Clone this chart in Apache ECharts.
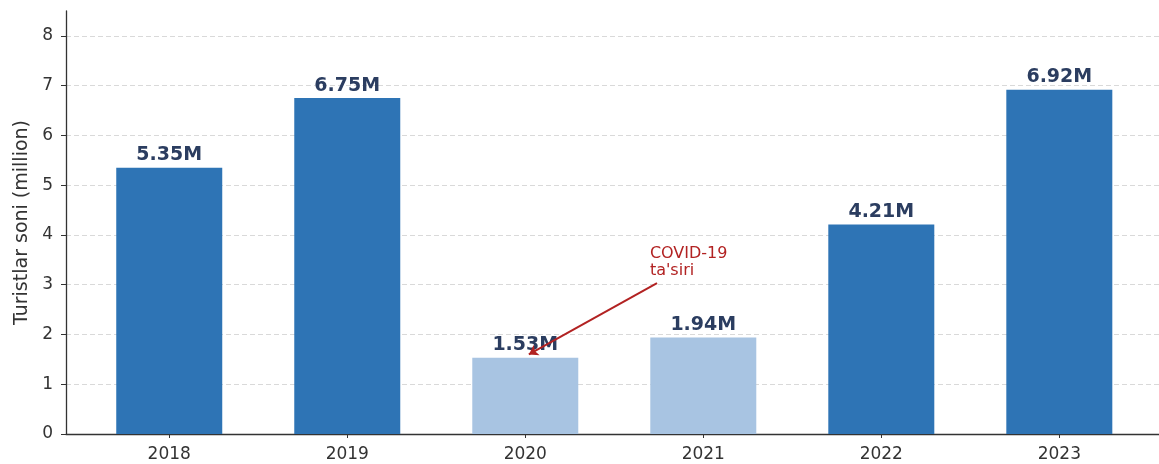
<!DOCTYPE html>
<html>
<head>
  <meta charset="utf-8">
  <title>Turistlar soni</title>
  <script src="https://cdn.jsdelivr.net/npm/echarts@6/dist/echarts.min.js"></script>
  <style>
    html, body { margin: 0; padding: 0; background: #fff; }
    #main { width: 1159px; height: 464px; }
  </style>
</head>
<body>
<div id="main"></div>
<script type="text/javascript">
// data
var years = ['2018', '2019', '2020', '2021', '2022', '2023'];
var tourists = [5.35, 6.75, 1.53, 1.94, 4.21, 6.92];   // million
var covidYears = ['2020', '2021'];
var yTicks = [0, 1, 2, 3, 4, 5, 6, 7, 8];
var xTicks = [0, 1, 2, 3, 4, 5];

var myChart = echarts.init(document.getElementById('main'));
var font = 'DejaVu Sans';

var barData = [];
for (var i = 0; i < years.length; i++) {
  var covid = covidYears.indexOf(years[i]) >= 0;
  barData.push({
    value: [i, tourists[i]],
    itemStyle: { color: covid ? '#a8c4e2' : '#2e74b5' }
  });
}

myChart.setOption({
  animation: false,
  grid: { left: 66, right: 0, top: 11, bottom: 30, outerBoundsMode: 'none', containLabel: false },
  xAxis: {
    type: 'value',
    min: -0.58,
    max: 5.56,
    splitLine: { show: false },
    axisLine: { show: true, onZero: false, lineStyle: { color: '#333', width: 1.3 } },
    axisTick: { show: true, customValues: xTicks, length: 4, lineStyle: { color: '#333' } },
    axisLabel: {
      customValues: xTicks,
      formatter: function (v) { return years[Math.round(v)]; },
      fontFamily: font, fontSize: 17, color: '#333', margin: 12
    }
  },
  yAxis: {
    type: 'value',
    min: 0,
    max: 8.5,
    interval: 1,
    name: 'Turistlar soni (million)',
    nameLocation: 'middle',
    nameGap: 34,
    nameTextStyle: { fontFamily: font, fontSize: 19, color: '#333' },
    axisLine: { show: true, onZero: false, lineStyle: { color: '#333', width: 1.3 } },
    axisTick: { show: true, customValues: yTicks, length: 5, lineStyle: { color: '#333' } },
    axisLabel: {
      customValues: yTicks,
      fontFamily: font, fontSize: 17, color: '#333', margin: 13
    },
    splitLine: {
      show: true,
      lineStyle: { color: '#d9d9d9', type: [5, 3], width: 1 }
    }
  },
  series: [{
    type: 'bar',
    barWidth: 106,
    data: barData,
    label: {
      show: true,
      position: 'top',
      distance: 3,
      formatter: function (p) { return p.value[1].toFixed(2) + 'M'; },
      fontFamily: font, fontSize: 19, fontWeight: 'bold', color: '#2b3d60'
    },
    markLine: {
      silent: true,
      symbol: ['none', 'arrow'],
      symbolSize: 9,
      label: { show: false },
      lineStyle: { color: '#b22222', width: 2, type: 'solid' },
      data: [[{ coord: [2.74, 3.03] }, { coord: [2.02, 1.6] }]]
    },
    markPoint: {
      silent: true,
      symbol: 'circle',
      symbolSize: 0,
      data: [{ coord: [2.7, 3.8] }],
      label: {
        show: true,
        position: 'right',
        distance: 0,
        align: 'left',
        verticalAlign: 'top',
        formatter: 'COVID-19\nta\'siri',
        fontFamily: font, fontSize: 16, lineHeight: 17, color: '#b22222'
      }
    }
  }]
});
</script>
</body>
</html>
